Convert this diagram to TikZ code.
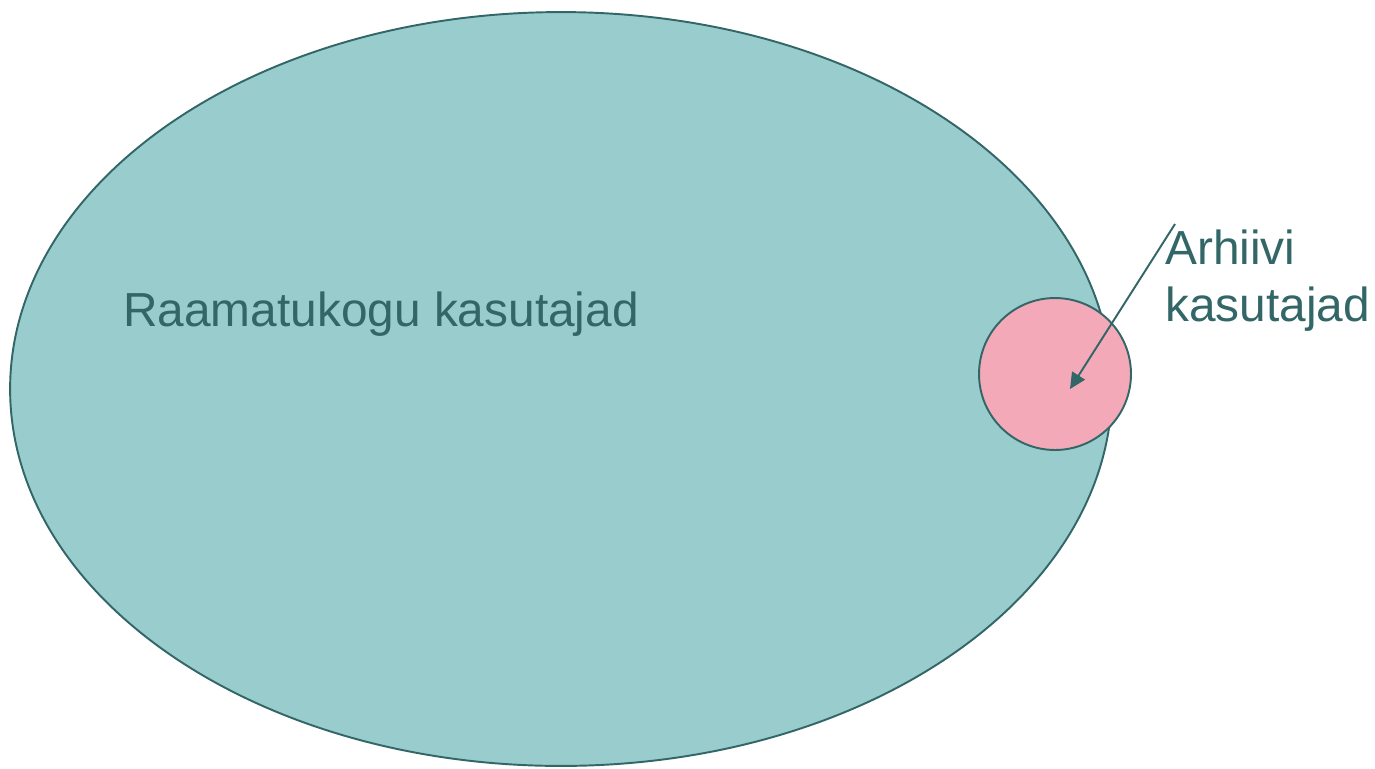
\documentclass[tikz,border=0pt]{standalone}
\usepackage{fontspec}
\setmainfont{Liberation Sans}
\usetikzlibrary{shapes.geometric}
\usetikzlibrary{arrows.meta}
\definecolor{kogu}{HTML}{99CCCC}
\definecolor{arhiiv}{HTML}{F4A9B9}
\definecolor{joon}{HTML}{336666}

\begin{document}
\begin{tikzpicture}[x=0.02cm,y=-0.02cm]
\useasboundingbox (0,0) rectangle (1375,768);

\node[ellipse,fill=kogu,draw=joon,line width=1.1pt,minimum width=22.04cm,minimum height=15.08cm,inner sep=0pt] (kogu) at (561,389) {};
\node[circle,fill=arhiiv,draw=joon,line width=1.1pt,minimum size=3.04cm,inner sep=0pt] (arhiiv) at (1055,374) {};

\node[anchor=base west,inner sep=0pt,text=joon,font=\fontsize{27.2}{32.3}\selectfont] (kogutekst) at (123,326) {Raamatukogu kasutajad};
\node[anchor=north west,inner sep=0pt,align=left,text=joon,font=\fontsize{27.2}{32.3}\selectfont] (arhiivtekst) at (1165,230) {Arhiivi\\kasutajad};

\coordinate (algus) at (1175,224);
\coordinate (ots) at (1070,389);
\draw[joon,line width=1.1pt,-{Triangle[length=0.32cm,width=0.3cm]}] (algus) -- (ots);

\end{tikzpicture}
\end{document}
